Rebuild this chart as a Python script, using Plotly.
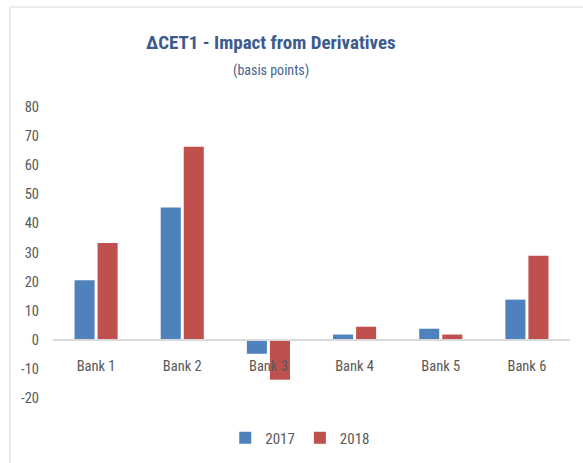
import plotly.graph_objects as go

banks = ["Bank 1", "Bank 2", "Bank 3", "Bank 4", "Bank 5", "Bank 6"]
v2017 = [20.5, 45.5, -4.8, 1.8, 3.8, 13.8]
v2018 = [33.3, 66.3, -13.7, 4.5, 1.8, 28.9]
y_ticks = [-20, -10, 0, 10, 20, 30, 40, 50, 60, 70, 80]
y_tick_labels = ["-20", "-10", "0", "10", "20", "30", "40", "50", "60", "70", "80"]

FONT = "Roboto Condensed, Lato, sans-serif"
fig = go.Figure()
fig.add_trace(go.Bar(x=banks, y=v2017, name="2017", marker=dict(color="#4F81BD", line=dict(width=0))))
fig.add_trace(go.Bar(x=banks, y=v2018, name="2018", marker=dict(color="#C0504D", line=dict(width=0))))

fig.update_layout(
    width=583, height=463,
    margin=dict(l=53, r=13, t=107, b=65, autoexpand=False),
    paper_bgcolor="white", plot_bgcolor="white",
    barmode="group", bargap=0.465, bargroupgap=0.13,
    font=dict(family=FONT, size=14, color="#595959"),
    showlegend=True,
    legend=dict(orientation="h", xref="container", yref="container",
                x=0.515, xanchor="center", y=0.054, yanchor="middle",
                font=dict(size=15, color="#595959"), itemwidth=30, traceorder="normal"),
    xaxis=dict(anchor="free", position=0.2, showline=True, linecolor="#D9D9D9", linewidth=1.5,
               ticks="", showgrid=False, ticklabelstandoff=13,
               tickfont=dict(size=14.5, color="#595959")),
    yaxis=dict(range=[-20, 80], tickvals=y_ticks, ticktext=y_tick_labels, showgrid=False,
               zeroline=False, showline=False, ticks="", ticklabelstandoff=13,
               tickfont=dict(size=14.5, color="#595959")),
    annotations=[
        dict(text="<b>ΔCET1 - Impact from Derivatives</b>", xref="paper", yref="paper",
             x=0.4217, y=1.22, xanchor="center", yanchor="middle", showarrow=False,
             font=dict(family=FONT, size=19, color="#3C5B8C")),
        dict(text="(basis points)", xref="paper", yref="paper",
             x=0.4217, y=1.124, xanchor="center", yanchor="middle", showarrow=False,
             font=dict(family=FONT, size=14, color="#4A648E")),
    ],
    shapes=[
        dict(type="rect", xref="paper", yref="paper", x0=-0.0832, x1=1.1, y0=-0.3, y1=1.3436,
             line=dict(color="#D9D9D9", width=1), fillcolor="rgba(0,0,0,0)", layer="below"),
    ],
)
fig.write_html("out.html", config={"displayModeBar": False},
               post_script="document.body.style.margin='0';")
